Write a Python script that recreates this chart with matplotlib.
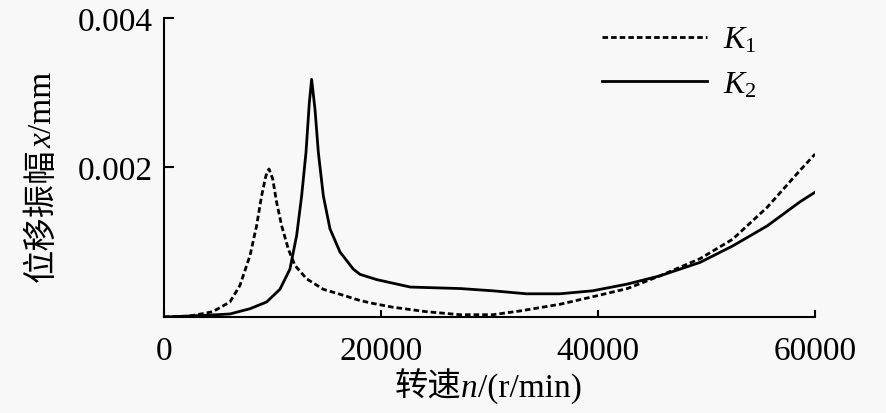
import numpy as np
import matplotlib
matplotlib.use('Agg')
import matplotlib.pyplot as plt

plt.rcParams['mathtext.fontset'] = 'custom'
plt.rcParams['mathtext.it'] = 'Liberation Serif:italic'
plt.rcParams['mathtext.rm'] = 'Liberation Serif'
plt.rcParams['mathtext.sf'] = 'Liberation Serif'
plt.rcParams['font.family'] = ['Liberation Serif', 'Noto Sans CJK SC']

# K1 (dashed)
k1_speed = [0, 2000, 2700, 4500, 6080, 7000, 7930, 8540, 9000, 9400, 9680,
            10020, 10390, 10850, 11460, 12070, 13150, 14690, 16530, 18060,
            19300, 21100, 24200, 27300, 30300, 32800, 36500, 39500, 42700,
            45700, 49400, 52400, 55600, 58600, 60000]
k1_amp = [0, 0.00001, 0.00002, 0.00007, 0.0002, 0.00042, 0.00082, 0.00122,
          0.00162, 0.00189, 0.00198, 0.00185, 0.00153, 0.00122, 0.00091,
          0.00069, 0.00051, 0.00037, 0.00029, 0.00022, 0.00018, 0.00013,
          0.00007, 0.00003, 0.00003, 0.00008, 0.00017, 0.00027, 0.00038,
          0.00055, 0.00078, 0.00104, 0.00147, 0.00196, 0.00218]

# K2 (solid)
k2_speed = [0, 2000, 4900, 6080, 7930, 9460, 10690, 11610, 12230, 12690,
            13090, 13400, 13610, 13920, 14230, 14690, 15300, 16220, 17450,
            18070, 19600, 22700, 27300, 30300, 33400, 36500, 39500, 42700,
            45700, 49400, 52400, 55600, 58600, 60000]
k2_amp = [0, 0.00001, 0.00003, 0.00004, 0.00011, 0.0002, 0.00037, 0.00064,
          0.00109, 0.00162, 0.0022, 0.00287, 0.00318, 0.00278, 0.0022,
          0.00162, 0.00118, 0.00087, 0.00064, 0.00057, 0.0005, 0.0004,
          0.00038, 0.00035, 0.00031, 0.00031, 0.00035, 0.00044, 0.00055,
          0.00073, 0.00095, 0.00122, 0.00154, 0.00167]

x_ticks = [0, 20000, 40000, 60000]
y_ticks = [0.002, 0.004]
y_tick_labels = ['0.002', '0.004']

bg = '#f8f8f8'
fs = 24
fig = plt.figure(figsize=(8.86, 4.14), dpi=100, facecolor=bg)
ax = fig.add_axes([0.185, 0.232, 0.735, 0.722], facecolor=bg)

ax.plot(k1_speed, k1_amp, color='black', lw=2.0, dashes=(2.0, 1.1),
        label=r'$K_\mathsf{1}$')
ax.plot(k2_speed, k2_amp, color='black', lw=2.0, label=r'$K_\mathsf{2}$')

ax.set_xlim(0, 60000)
ax.set_ylim(0, 0.004)
ax.set_xticks(x_ticks)
ax.set_xticklabels([str(v) for v in x_ticks])
ax.set_yticks(y_ticks)
ax.set_yticklabels(y_tick_labels)

for s in ['top', 'right']:
    ax.spines[s].set_visible(False)
for s in ['left', 'bottom']:
    ax.spines[s].set_linewidth(1.5)
ax.tick_params(direction='in', width=1.5, labelsize=fs)
ax.tick_params(axis='y', length=7, pad=8)
ax.tick_params(axis='x', length=5, pad=13)


def chain_text(parts, x, y, rotation=0):
    # parts: list of (text, style); drawn one after another
    txt = fig.text(x, y, parts[0][0], fontsize=fs, style=parts[0][1],
                   rotation=rotation, ha='left', va='bottom')
    for s, st in parts[1:]:
        if rotation == 0:
            txt = ax.annotate(s, xy=(1, 0), xycoords=txt, ha='left', va='bottom',
                              fontsize=fs, style=st, annotation_clip=False,
                              family=['Liberation Serif'])
        else:
            txt = ax.annotate(s, xy=(1, 1), xycoords=txt, ha='right', va='bottom',
                              rotation=rotation, fontsize=fs, style=st,
                              annotation_clip=False, family=['Liberation Serif'])
    return txt


chain_text([('转速', 'normal'), ('n', 'italic'), ('/(r/min)', 'normal')],
           0.445, 0.025)
chain_text([('位移振幅', 'normal'), ('x', 'italic'), ('/mm', 'normal')],
           0.03, 0.32, rotation=90)

ax.legend(loc='upper left', bbox_to_anchor=(0.665, 0.967),
          bbox_transform=fig.transFigure, frameon=False, fontsize=23,
          handlelength=3.3, handletextpad=0.5, labelspacing=0.46,
          borderaxespad=0)

plt.savefig('out.png', dpi=100, facecolor=bg)
